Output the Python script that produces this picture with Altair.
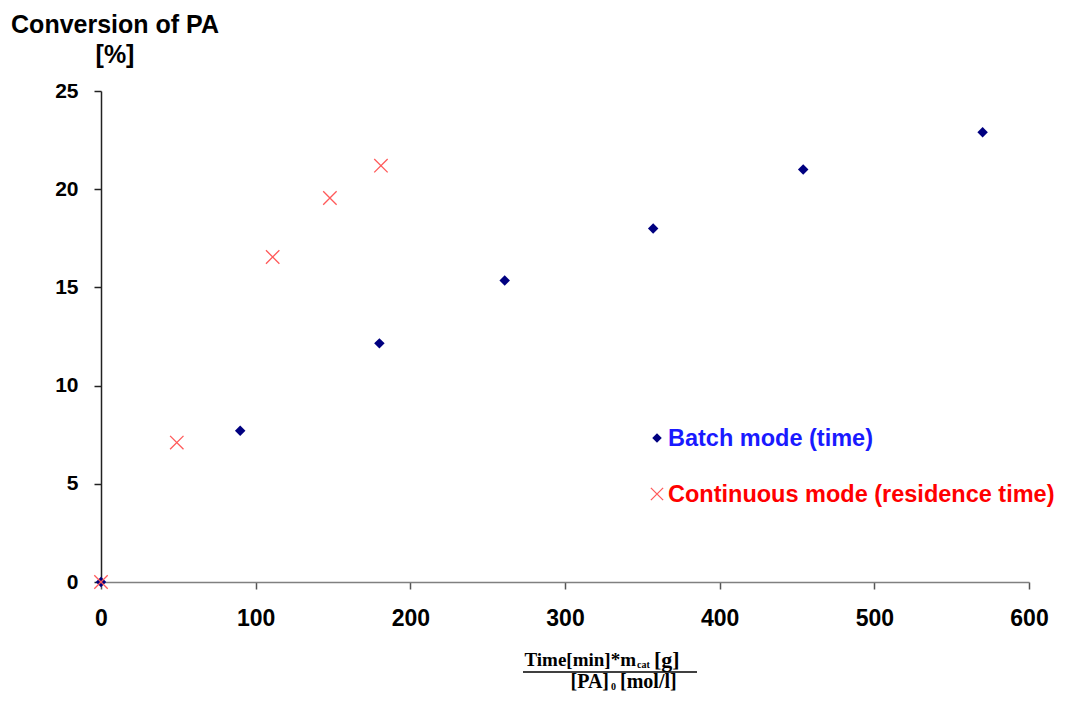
import altair as alt
import pandas as pd

# Data
batch_x = [0, 90, 180, 261, 357, 454, 570]
batch_y = [0, 7.7, 12.15, 15.35, 18.0, 21.0, 22.9]
cont_x = [0, 49, 111, 148, 181]
cont_y = [0, 7.1, 16.55, 19.55, 21.2]
x_ticks = [0, 100, 200, 300, 400, 500, 600]
y_ticks = [0, 5, 10, 15, 20, 25]

W, H = 928, 491
SANS = "Arial, Liberation Sans"
SERIF = "Liberation Serif, Times New Roman"
XPATH = "M-1,-1L1,1M1,-1L-1,1"

batch = pd.DataFrame({"x": batch_x, "y": batch_y})
cont = pd.DataFrame({"x": cont_x, "y": cont_y})

xs = alt.Scale(domain=[0, 600], nice=False, zero=False)
ys = alt.Scale(domain=[0, 25], nice=False, zero=False)

x_axis = alt.Axis(values=x_ticks, title=None, grid=False, labelFont=SANS, labelFontSize=23,
                  labelFontWeight="bold", labelColor="black", labelPadding=18, tickSize=7,
                  labelFlush=False, labelOverlap=False,
                  tickColor="#555555", domainColor="#808080", domainWidth=1.5, tickWidth=1.5)
y_axis = alt.Axis(values=y_ticks, title=None, grid=False, labelFont=SANS, labelFontSize=21,
                  labelFontWeight="bold", labelColor="black", labelPadding=16, tickSize=7,
                  labelFlush=False, labelOverlap=False,
                  tickColor="#222222", domainColor="#222222", domainWidth=1.5, tickWidth=1.5)

b = alt.Chart(batch).mark_point(shape="diamond", filled=True, color="#000080", size=110, opacity=1).encode(
    x=alt.X("x:Q", scale=xs, axis=x_axis),
    y=alt.Y("y:Q", scale=ys, axis=y_axis),
)
c = alt.Chart(cont).mark_point(shape=XPATH, filled=False, color="#ff5a5a", size=180, strokeWidth=1.3, opacity=1).encode(
    x=alt.X("x:Q", scale=xs),
    y=alt.Y("y:Q", scale=ys),
)

one = pd.DataFrame({"a": [0]})

def txt(s, x, y, size=20, color="black", font=SANS, align="left", weight="bold", baseline="middle"):
    return alt.Chart(one).mark_text(text=s, font=font, fontSize=size, fontWeight=weight, color=color,
                                    align=align, baseline=baseline).encode(x=alt.value(x), y=alt.value(y))

# legend
leg = [
    alt.Chart(one).mark_point(shape="diamond", filled=True, color="#000080", size=90, opacity=1).encode(
        x=alt.value(556), y=alt.value(347)),
    txt("Batch mode (time)", 567, 348, size=23.5, color="#1a1aff"),
    alt.Chart(one).mark_point(shape=XPATH, filled=False, color="#ff5a5a", size=150, strokeWidth=1.3, opacity=1).encode(
        x=alt.value(556), y=alt.value(403)),
    txt("Continuous mode (residence time)", 567, 404, size=23.5, color="#ff0000"),
]

# y title
ytitle = [
    txt("Conversion of PA", 14, -58, size=25, align="center", baseline="alphabetic"),
    txt("[%]", 14, -28, size=25, align="center", baseline="alphabetic"),
]

# x title (fraction)
xt = [
    txt("Time[min]*m", 535, 569, size=19, font=SERIF, align="right"),
    txt("cat", 536, 574, size=10, font=SERIF),
    txt("[g]", 553, 569, size=22, font=SERIF),
    alt.Chart(one).mark_rule(color="black", strokeWidth=1.3).encode(
        x=alt.value(422), x2=alt.value(596), y=alt.value(581)),
    txt("[PA]", 508, 591, size=20, font=SERIF, align="right"),
    txt("0", 510, 596, size=10, font=SERIF),
    txt("[mol/l]", 519, 591, size=20, font=SERIF),
]

chart = alt.layer(b, c, *leg, *ytitle, *xt).properties(
    width=W, height=H,
    autosize=alt.AutoSizeParams(type="none"),
    padding={"left": 93, "top": 83, "right": 29, "bottom": 112},
).configure(background="white", view=alt.ViewConfig(strokeWidth=0, stroke="transparent"))

chart.save("out.html", embed_options={"renderer": "svg", "actions": False})
